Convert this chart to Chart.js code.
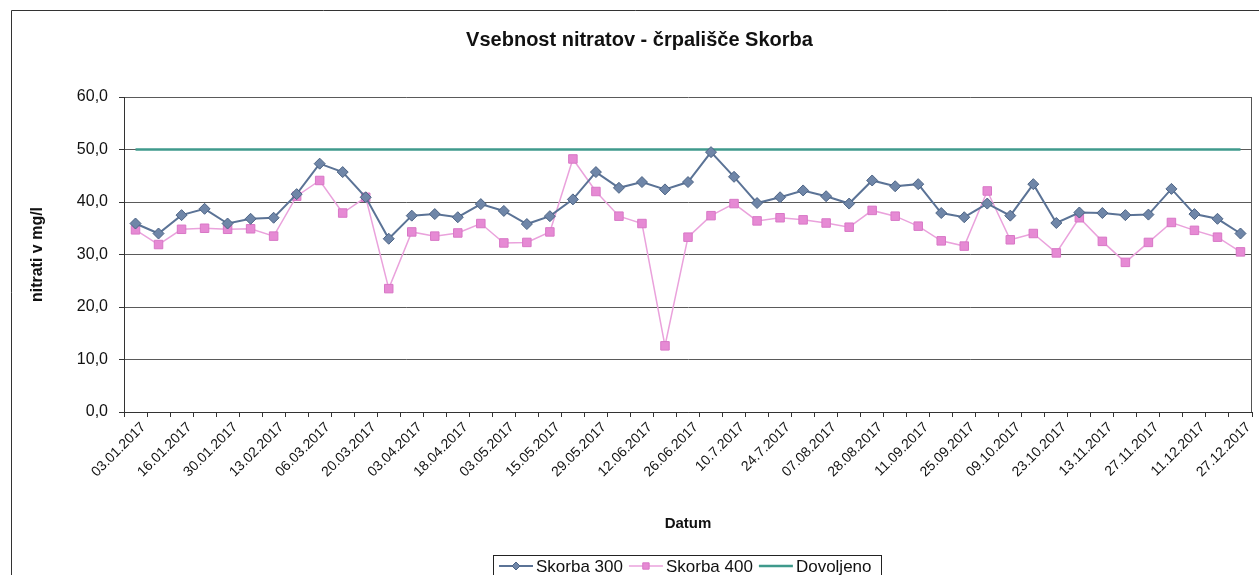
<!DOCTYPE html>
<html>
<head>
<meta charset="utf-8">
<script src="https://cdn.jsdelivr.net/npm/chart.js@4"></script>
<style>
  html, body { margin: 0; padding: 0; background: #fff; }
  #wrap { width: 1259px; height: 575px; }
</style>
</head>
<body>
<div id="wrap"><canvas id="canvas-chart" width="1259" height="575"></canvas></div>
<script>
const tickLabels = ['03.01.2017', '16.01.2017', '30.01.2017', '13.02.2017', '06.03.2017',
  '20.03.2017', '03.04.2017', '18.04.2017', '03.05.2017', '15.05.2017', '29.05.2017',
  '12.06.2017', '26.06.2017', '10.7.2017', '24.7.2017', '07.08.2017', '28.08.2017',
  '11.09.2017', '25.09.2017', '09.10.2017', '23.10.2017', '13.11.2017', '27.11.2017',
  '11.12.2017', '27.12.2017'];

const skorba300 = [35.9, 34.0, 37.5, 38.7, 35.9, 36.8, 37.0, 41.5, 47.3, 45.7,
  40.9, 33.0, 37.4, 37.7, 37.1, 39.6, 38.3, 35.8, 37.3, 40.5,
  45.7, 42.7, 43.8, 42.4, 43.8, 49.5, 44.8, 39.8, 40.9, 42.2,
  41.1, 39.7, 44.1, 43.0, 43.4, 37.9, 37.1, 39.7, 37.4, 43.4,
  36.0, 38.0, 37.9, 37.5, 37.6, 42.5, 37.7, 36.8, 34.0];

const skorba400 = [34.7, 31.9, 34.8, 35.0, 34.8, 34.9, 33.5, 41.1, 44.1, 37.9,
  40.9, 23.5, 34.3, 33.5, 34.1, 35.9, 32.2, 32.3, 34.3, 48.2,
  42.0, 37.3, 35.9, 12.6, 33.3, 37.4, 39.7, 36.4, 37.0, 36.6,
  36.0, 35.2, 38.4, 37.3, 35.4, 32.6, 31.6, 42.1, 32.8, 34.0,
  30.3, 37.0, 32.5, 28.5, 32.3, 36.1, 34.6, 33.3, 30.5];

const dovoljeno = [50, 50, 50, 50, 50, 50, 50, 50, 50, 50,
  50, 50, 50, 50, 50, 50, 50, 50, 50, 50,
  50, 50, 50, 50, 50, 50, 50, 50, 50, 50,
  50, 50, 50, 50, 50, 50, 50, 50, 50, 50,
  50, 50, 50, 50, 50, 50, 50, 50, 50];

// every second sampling date carries a label, the ones between are unlabeled
const labels = skorba300.map((v, i) => (i % 2 === 0 ? tickLabels[i / 2] : ''));

const FONT = '"Liberation Sans", Arial, sans-serif';

// outer frame + plot area right edge
const framePlugin = {
  id: 'frame',
  beforeDraw(chart) {
    const c = chart.ctx;
    c.save();
    c.fillStyle = '#fff';
    c.fillRect(0, 0, chart.width, chart.height);
    c.strokeStyle = '#333';
    c.lineWidth = 1;
    c.beginPath();
    c.moveTo(11.5, chart.height);
    c.lineTo(11.5, 10.5);
    c.lineTo(chart.width, 10.5);
    c.stroke();
    c.restore();
  },
  afterDraw(chart) {
    const c = chart.ctx;
    const a = chart.chartArea;
    c.save();
    c.strokeStyle = '#555';
    c.lineWidth = 1;
    c.beginPath();
    c.moveTo(a.right - 0.5, a.top);
    c.lineTo(a.right - 0.5, a.bottom);
    c.stroke();
    c.restore();
  }
};

// Excel style legend: line sample with marker, boxed
const legendPlugin = {
  id: 'excelLegend',
  afterDraw(chart) {
    const c = chart.ctx;
    const box = { x: 493, y: 555, w: 388, h: 30 };
    const cy = 566;
    c.save();
    c.strokeStyle = '#222';
    c.lineWidth = 1;
    c.strokeRect(box.x + 0.5, box.y + 0.5, box.w, box.h);
    c.font = '17px ' + FONT;
    c.textBaseline = 'middle';
    let x = 499;
    chart.data.datasets.forEach(ds => {
      c.strokeStyle = ds.borderColor;
      c.lineWidth = ds.borderWidth;
      c.beginPath();
      c.moveTo(x, cy);
      c.lineTo(x + 34, cy);
      c.stroke();
      if (ds.pointRadius > 0) {
        c.fillStyle = ds.pointBackgroundColor;
        c.strokeStyle = ds.pointBorderColor;
        c.lineWidth = 1;
        Chart.helpers.drawPoint(c, {
          pointStyle: ds.pointStyle,
          radius: ds.pointRadius - 1.5,
          borderWidth: 1
        }, x + 17, cy);
      }
      c.fillStyle = '#111';
      c.fillText(ds.label, x + 37, cy + 1);
      x += 37 + c.measureText(ds.label).width + 6;
    });
    c.restore();
  }
};

const ctx = document.getElementById('canvas-chart');

new Chart(ctx, {
  type: 'line',
  data: {
    labels: labels,
    datasets: [{
      label: 'Skorba 300',
      data: skorba300,
      borderColor: '#5b7396',
      borderWidth: 2,
      pointStyle: 'rectRot',
      pointRadius: 5.5,
      pointBackgroundColor: '#6f86a8',
      pointBorderColor: '#4d6485',
      pointBorderWidth: 1,
      tension: 0
    }, {
      label: 'Skorba 400',
      data: skorba400,
      borderColor: '#eaa2dc',
      borderWidth: 1.5,
      pointStyle: 'rect',
      pointRadius: 6,
      pointBackgroundColor: '#e68ad4',
      pointBorderColor: '#d877c6',
      pointBorderWidth: 1,
      tension: 0
    }, {
      label: 'Dovoljeno',
      data: dovoljeno,
      borderColor: '#3f9a8c',
      borderWidth: 2.5,
      pointRadius: 0,
      tension: 0
    }]
  },
  options: {
    responsive: false,
    animation: false,
    layout: {
      padding: { left: 22, right: 2, top: 0, bottom: 0 }
    },
    plugins: {
      legend: { display: false },
      tooltip: { enabled: false },
      title: {
        display: true,
        text: 'Vsebnost nitratov - črpališče Skorba',
        color: '#111',
        font: { family: FONT, size: 20, weight: 'bold' },
        padding: { top: 28, bottom: 45 }
      }
    },
    scales: {
      x: {
        offset: true,
        afterFit(scale) { scale.height = 163; },
        grid: {
          offset: true,
          drawOnChartArea: false,
          drawTicks: true,
          tickLength: 5,
          tickColor: '#333'
        },
        border: { color: '#333', width: 1 },
        ticks: {
          autoSkip: false,
          minRotation: 45,
          maxRotation: 45,
          padding: 2,
          labelOffset: 8,
          color: '#111',
          font: { family: FONT, size: 14 }
        },
        title: {
          display: true,
          text: 'Datum',
          color: '#111',
          font: { family: FONT, size: 15, weight: 'bold' },
          padding: { top: 0, bottom: 42 }
        }
      },
      y: {
        min: 0,
        max: 60,
        afterFit(scale) { scale.width = 102; },
        grid: {
          color: '#5a5a5a',
          lineWidth: 1,
          tickLength: 5,
          tickColor: '#333'
        },
        border: { color: '#333', width: 1 },
        ticks: {
          stepSize: 10,
          padding: 11,
          color: '#111',
          font: { family: FONT, size: 16 },
          callback: v => v.toFixed(1).replace('.', ',')
        },
        title: {
          display: true,
          text: 'nitrati v mg/l',
          color: '#111',
          font: { family: FONT, size: 16, weight: 'bold' },
          padding: { top: 6, bottom: 0 }
        }
      }
    }
  },
  plugins: [framePlugin, legendPlugin]
});
</script>
</body>
</html>
